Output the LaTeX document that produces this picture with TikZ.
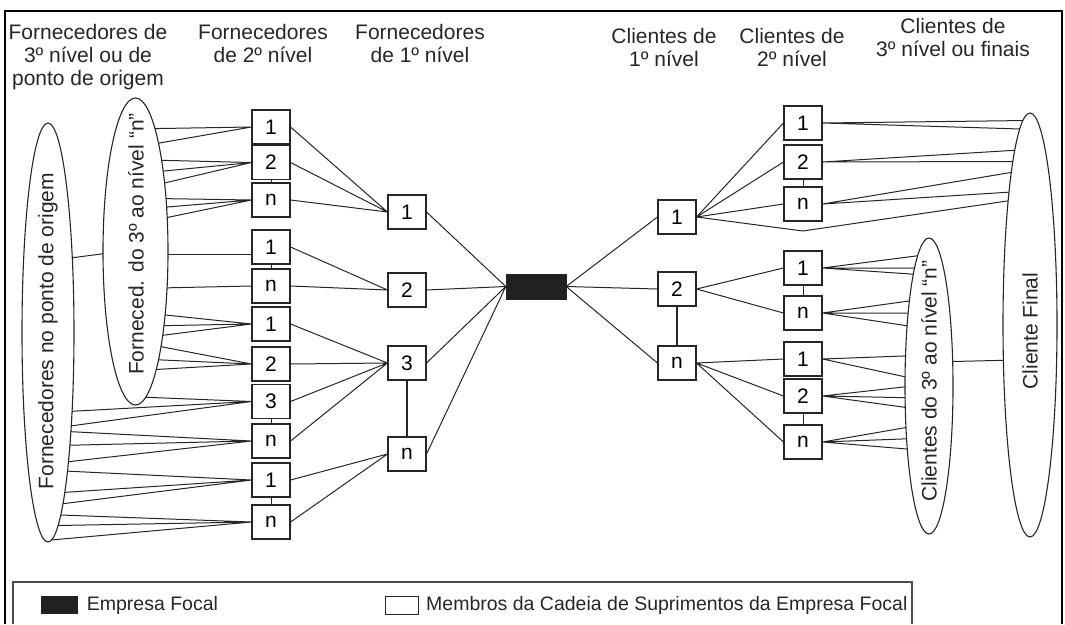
\documentclass[tikz,border=0pt]{standalone}
\usepackage{fontspec}
\setmainfont{Liberation Sans}
\usetikzlibrary{shapes,arrows,positioning}
\newcommand{\diagFont}{\fontsize{21}{23}\selectfont}
\newcommand{\keyFont}{\fontsize{19.5}{22}\selectfont}
\tikzstyle{member} = [rectangle, draw=black!85, line width=1.1pt, fill=white,
    minimum width=38pt, minimum height=34pt, inner sep=0pt, font=\diagFont]
\tikzstyle{focalFirm} = [rectangle, draw=black!85, fill=black!87,
    minimum width=60pt, minimum height=25pt, inner sep=0pt]
\tikzstyle{tierGroup} = [ellipse, draw=black!85, line width=1.1pt, inner sep=0pt, outer sep=0pt]
\tikzstyle{tierText} = [rotate=90, inner sep=0pt, font=\diagFont, text=black!85]
\tikzstyle{heading} = [align=center, anchor=north, inner sep=0pt, font=\diagFont, text=black!85]
\tikzstyle{tie} = [draw=black!85, line width=1pt]

\begin{document}
\begin{tikzpicture}[x=1pt, y=-1pt]
    \useasboundingbox (0,0) rectangle (1065,624);
    % Frame and legend
    \draw[line width=2.5pt] (5,624) -- (5,11) -- (1062,11) -- (1062,624);
    \draw[draw=black!70, line width=1.2pt] (13,624) -- (13,582) -- (912,582) -- (912,624);

    % Headings
    \node[heading](hdSupp3) at (88,24){Fornecedores de\\3º nível ou de\\ponto de origem};
    \node[heading](hdSupp2) at (263,24){Fornecedores\\de 2º nível};
    \node[heading](hdSupp1) at (420,24){Fornecedores\\de 1º nível};
    \node[heading](hdCli1) at (664,28){Clientes de\\1º nível};
    \node[heading](hdCli2) at (792,28){Clientes de\\2º nível};
    \node[heading](hdCli3) at (953,18){Clientes de\\3º nível ou finais};

    % Place nodes
    \node[tierGroup, minimum width=52pt, minimum height=419pt](fo) at (48,332.5){};
    \node[tierGroup, minimum width=65pt, minimum height=307pt](fe) at (135.5,251.5){};
    \node[tierGroup, minimum width=48pt, minimum height=296pt](ce) at (929,386){};
    \node[tierGroup, minimum width=54pt, minimum height=424pt](cf) at (1030,325){};
    \node[tierText](foText) at (48,331){Fornecedores no ponto de origem};
    \node[tierText](feText) at (136,244){Forneced. do 3º ao nível “n”};
    \node[tierText](ceText) at (929,381){Clientes do 3º ao nível “n”};
    \node[tierText](cfText) at (1030,331){Cliente Final};

    \node[member](a1) at (271,127){1};
    \node[member](a2) at (271,162.5){2};
    \node[member](a3) at (271,200){n};
    \node[member](b1) at (271,247){1};
    \node[member](b2) at (271,286){n};
    \node[member](c1) at (271,324){1};
    \node[member](c2) at (271,364){2};
    \node[member](c3) at (271,401.5){3};
    \node[member](c4) at (271,441){n};
    \node[member](d1) at (271,480){1};
    \node[member](d2) at (271,522){n};

    \node[member](l1) at (407,212){1};
    \node[member](l2) at (407,290){2};
    \node[member](l3) at (407,363){3};
    \node[member](ln) at (407,454){n};

    \node[focalFirm](focal) at (536,286.5){};

    \node[member](r1) at (677,217){1};
    \node[member](r2) at (677,289){2};
    \node[member](rn) at (677,363){n};

    \node[member](s1) at (803,123){1};
    \node[member](s2) at (803,162){2};
    \node[member](sn) at (803,204){n};
    \node[member](t1) at (803,268){1};
    \node[member](tn) at (803,313){n};
    \node[member](u1) at (803,359){1};
    \node[member](u2) at (803,396){2};
    \node[member](un) at (803,442){n};
    \coordinate (vtip) at (803,231);

    % Draw edges
    \path[tie] (fe.81.9) -- (a1.west) (fe.78.0) -- (a1.west);
    \path[tie] (fe.74.4) -- (a2.west) (fe.71.0) -- (a2.west) (fe.67.7) -- (a2.west);
    \path[tie] (fe.60.8) -- (a3.west) (fe.55.1) -- (a3.west) (fe.47.4) -- (a3.west);
    \path[tie] (fo.72.9) -- (fe.184.4);
    \path[tie] (fe.355.6) -- (fe.355.6 -| b1.west);
    \path[tie] (fe.311.7) -- (b2.west);
    \path[tie] (fe.295.0) -- (c1.west) (fe.291.5) -- (c1.west) (fe.288.0) -- (c1.west);
    \path[tie] (fe.285.4) -- (c2.west) (fe.282.6) -- (c2.west) (fe.280.5) -- (c2.west);
    \path[tie] (fe.274.9) -- (c3.west) (fo.287.6) -- (c3.west) (fo.284.0) -- (c3.west);
    \path[tie] (fo.283.0) -- (c4.west) (fo.281.2) -- (c4.west) (fo.279.5) -- (c4.west);
    \path[tie] (fo.278.0) -- (d1.west) (fo.276.8) -- (d1.west) (fo.275.7) -- (d1.west);
    \path[tie] (fo.274.7) -- (d2.west) (fo.273.5) -- (d2.west) (fo.271.9) -- (d2.west);

    \path[tie] (a1.east) -- (l1.west) (a2.east) -- (l1.west) (a3.east) -- (l1.west);
    \path[tie] (b1.east) -- (l2.west) (b2.east) -- (l2.west);
    \path[tie] (c1.east) -- (l3.west) (c2.east) -- (l3.west) (c3.east) -- (l3.west) (c4.east) -- (l3.west);
    \path[tie] (d1.east) -- (ln.west) (d2.east) -- (ln.west);
    \path[tie] (l1.east) -- (focal.west) (l2.east) -- (focal.west) (l3.east) -- (focal.west) (ln.east) -- (focal.west);

    \path[tie] (focal.east) -- (r1.west) (focal.east) -- (r2.west) (focal.east) -- (rn.west);
    \path[tie] (r1.east) -- (s1.west) (r1.east) -- (s2.west) (r1.east) -- (sn.west);
    \path[tie] (r1.east) -- (vtip) -- (cf.100.8);
    \path[tie] (r2.east) -- (t1.west) (r2.east) -- (tn.west);
    \path[tie] (rn.east) -- (u1.west) (rn.east) -- (u2.west) (rn.east) -- (un.west);

    \path[tie] (s1.east) -- (cf.92.4) (s1.east) -- (cf.93.0) (s1.east) -- (cf.93.4) (s1.east) -- (cf.93.9);
    \path[tie] (s2.east) -- (cf.95.4) (s2.east) -- (cf.96.8);
    \path[tie] (sn.east) -- (cf.97.8) (sn.east) -- (cf.99.4);
    \path[tie] (t1.east) -- (ce.95.1) (t1.east) -- (ce.97.0) (t1.east) -- (ce.98.8);
    \path[tie] (tn.east) -- (ce.103.5) (tn.east) -- (ce.106.6) (tn.east) -- (ce.110.4);
    \path[tie] (u1.east) -- (ce.128.1) (u1.east) -- (ce.159.4);
    \path[tie] (u2.east) -- (ce.182.4) (u2.east) -- (ce.206.7) (u2.east) -- (ce.222.9);
    \path[tie] (un.east) -- (ce.241.3) (un.east) -- (ce.247.6) (un.east) -- (ce.251.4);
    \path[tie] (ce.46.5) -- (cf.233.5);

    % Links inside a tier
    \path[tie] (a2) -- (a3) (b1) -- (b2) (c3) -- (c4) (d1) -- (d2);
    \path[tie, line width=1.6pt] (l3) -- (ln);
    \path[tie] (s2) -- (sn) (t1) -- (tn) (u2) -- (un);
    \path[tie, line width=1.6pt] (r2) -- (rn);

    % Legend
    \node[rectangle, fill=black!87, minimum width=37pt, minimum height=18pt, inner sep=0pt](keyFocal) at (59,605){};
    \node[right=9pt of keyFocal, inner sep=0pt, font=\keyFont, text=black!85](keyFocalText){Empresa Focal};
    \node[rectangle, draw=black!85, line width=1pt, minimum width=33pt, minimum height=18pt, inner sep=0pt](keyMember) at (402,605){};
    \node[right=7pt of keyMember, inner sep=0pt, font=\keyFont, text=black!85](keyMemberText){Membros da Cadeia de Suprimentos da Empresa Focal};
\end{tikzpicture}
\end{document}
